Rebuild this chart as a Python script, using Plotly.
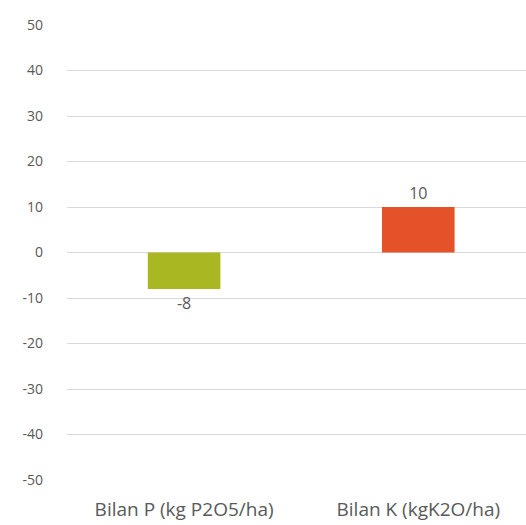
import plotly.graph_objects as go

categories = ["Bilan P (kg P2O5/ha)", "Bilan K (kgK2O/ha)"]
values = [-8, 10]
bar_colors = ["#A9B723", "#E4522A"]
y_ticks = [50, 40, 30, 20, 10, 0, -10, -20, -30, -40, -50]

fig = go.Figure(
    go.Bar(
        x=categories,
        y=values,
        marker=dict(color=bar_colors, line=dict(width=0)),
        width=0.31,
        text=[str(v) for v in values],
        textposition="outside",
        textfont=dict(family="Open Sans", size=16, color="#595959"),
        cliponaxis=False,
    )
)

fig.update_layout(
    width=526,
    height=525,
    margin=dict(l=67, r=0, t=25, b=45),
    paper_bgcolor="white",
    plot_bgcolor="white",
    showlegend=False,
    font=dict(family="Open Sans", color="#595959"),
)

fig.update_yaxes(
    range=[-50, 50],
    tickvals=y_ticks,
    ticktext=[str(v) for v in y_ticks],
    tickfont=dict(size=14, color="#595959"),
    showgrid=True,
    gridcolor="#D9D9D9",
    gridwidth=1,
    zeroline=True,
    zerolinecolor="#D9D9D9",
    zerolinewidth=1,
    showline=False,
    ticks="",
    ticklabelstandoff=23,
)

fig.update_xaxes(
    range=[-0.5, 1.46],
    tickfont=dict(size=19, color="#595959"),
    showline=False,
    ticks="",
    showgrid=False,
    ticklabelstandoff=16,
)

fig.write_html("out.html")
